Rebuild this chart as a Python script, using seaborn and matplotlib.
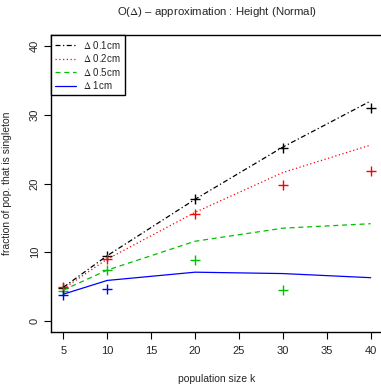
import matplotlib
matplotlib.use("Agg")
import matplotlib.pyplot as plt
import seaborn as sns
import pandas as pd

sns.set_style("ticks")
plt.rcParams['font.family'] = ['Liberation Sans', 'DejaVu Sans']
plt.rcParams['mathtext.fontset'] = 'stix'

k = [5, 10, 20, 30, 40]
series = ["0.1cm", "0.2cm", "0.5cm", "1cm"]
line_01 = [4.9, 9.5, 17.7, 25.3, 32.0]
line_02 = [4.7, 9.0, 15.8, 21.6, 25.6]
line_05 = [4.5, 7.4, 11.6, 13.5, 14.15]
line_1 = [3.9, 5.9, 7.1, 6.9, 6.3]

pts_01_k = [5, 10, 20, 30, 40]
pts_01 = [4.8, 9.5, 17.8, 25.1, 30.95]
pts_02_k = [5, 10, 20, 30, 40]
pts_02 = [4.9, 9.0, 15.6, 19.85, 21.8]
pts_05_k = [5, 10, 20, 30]
pts_05 = [4.4, 7.4, 8.85, 4.5]
pts_1_k = [5, 10]
pts_1 = [3.8, 4.7]

colors = ["black", "red", "#00c000", "blue"]
dashes = [(4, 2, 1, 2), (1, 2), (4, 3), (None, None)]

fig = plt.figure(figsize=(3.81, 3.84), dpi=100)
ax = fig.add_axes([51/381, 1 - 332/384, 332/381, 297/384])

lines = [line_01, line_02, line_05, line_1]
pts = [(pts_01_k, pts_01), (pts_02_k, pts_02), (pts_05_k, pts_05), (pts_1_k, pts_1)]
for name, ys, (pk, pv), c, d in zip(series, lines, pts, colors, dashes):
    df = pd.DataFrame({"k": k, "v": ys})
    label = r'$\Delta$ ' + name
    sns.lineplot(data=df, x="k", y="v", ax=ax, color=c, lw=0.9, label=label)
    ln = ax.lines[-1]
    if d[0] is not None:
        ln.set_dashes(d)
    dp = pd.DataFrame({"k": pk, "v": pv})
    sns.scatterplot(data=dp, x="k", y="v", ax=ax, color=c, marker="+", s=50,
                    linewidth=1.0, legend=False)

ax.set_xlim(3.6, 41.4)
ax.set_ylim(-1.6, 41.6)
ax.set_xticks([5, 10, 15, 20, 25, 30, 35, 40])
ax.set_yticks([0, 10, 20, 30, 40])
ax.tick_params(axis='both', labelsize=8, length=5, width=0.8, color='black')
ax.tick_params(axis='y', pad=3)
ax.tick_params(axis='x', pad=5)
for lab in ax.get_yticklabels():
    lab.set_rotation(90)
    lab.set_va('center')
for s in ax.spines.values():
    s.set_visible(True)
    s.set_color('black')
    s.set_linewidth(1.0)

ax.set_xlabel("population size k", fontsize=7.5)
ax.set_ylabel("fraction of pop. that is singleton", fontsize=7.5)
ax.xaxis.set_label_coords((217 - 51) / 332, (332 - 374) / 297)
ax.yaxis.set_label_coords((12 - 51) / 332, 0.5)
fig.text(217/381, 1 - 12/384, r'O($\Delta$) – approximation : Height (Normal)',
         ha='center', va='center', fontsize=8.2)

leg = ax.legend(loc='upper left', fontsize=7, frameon=True, fancybox=False,
                borderaxespad=0, handlelength=2.2, handletextpad=0.7,
                labelspacing=0.15, borderpad=0.4)
leg.get_frame().set_edgecolor('black')
leg.get_frame().set_linewidth(1.0)
leg.get_frame().set_alpha(1)

fig.savefig("out.png", dpi=100)
